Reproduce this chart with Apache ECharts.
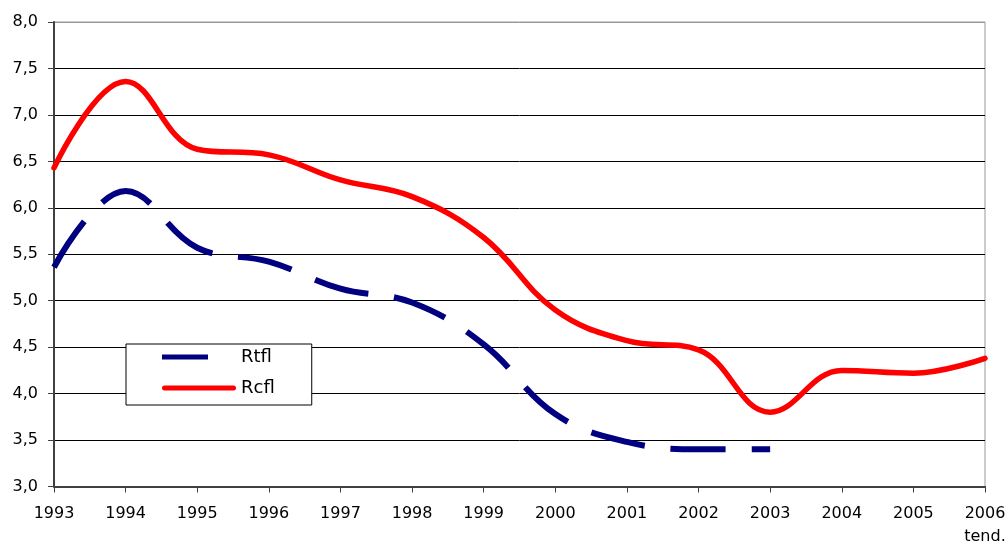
<!DOCTYPE html>
<html>
<head>
<meta charset="utf-8">
<script src="https://cdn.jsdelivr.net/npm/echarts@6/dist/echarts.min.js"></script>
<style>
  html, body { margin: 0; padding: 0; background: #fff; }
  #main { width: 1007px; height: 545px; }
</style>
</head>
<body>
<div id="main"></div>
<script>
var years = [1993, 1994, 1995, 1996, 1997, 1998, 1999, 2000, 2001, 2002, 2003, 2004, 2005, 2006];
var rtfl = [5.36, 6.18, 5.57, 5.42, 5.13, 4.98, 4.53, 3.78, 3.48, 3.40, 3.40];
var rcfl = [6.43, 7.36, 6.63, 6.57, 6.30, 6.12, 5.68, 4.90, 4.57, 4.47, 3.80, 4.25, 4.22, 4.38];
var yTicks = [3, 3.5, 4, 4.5, 5, 5.5, 6, 6.5, 7, 7.5, 8];

var chart = echarts.init(document.getElementById('main'));

function pairs(vals) {
  return vals.map(function (v, i) { return [years[i], v]; });
}

var gridColors = yTicks.map(function (t) { return t === 8 ? '#999' : '#000'; });

// legend icons: short dash for Rtfl, full rounded bar for Rcfl
var iconRtfl = 'path://M74,0 M0,0 L46,0 L46,5 L0,5 Z';
var iconRcfl = 'path://M2.5,0 L71.5,0 A2.5,2.5 0 0 1 71.5,5 L2.5,5 A2.5,2.5 0 0 1 2.5,0 Z';

var option = {
  backgroundColor: '#fff',
  animation: false,
  textStyle: { fontFamily: 'DejaVu Sans' },
  grid: {
    left: 54, right: 22, top: 22, bottom: 58.5,
    outerBoundsMode: 'none',
    containLabel: false,
    show: true, borderColor: '#999', borderWidth: 1
  },
  legend: {
    orient: 'vertical',
    left: 126, top: 344,
    backgroundColor: '#fff',
    borderColor: '#000', borderWidth: 1, borderRadius: 0,
    padding: [3, 37, 7, 36],
    itemGap: 11,
    itemWidth: 74, itemHeight: 5,
    textStyle: { fontSize: 18, color: '#000', lineHeight: 20, fontFamily: 'DejaVu Sans' },
    data: [
      { name: 'Rtfl', icon: iconRtfl, itemStyle: { color: '#000080' } },
      { name: 'Rcfl', icon: iconRcfl, itemStyle: { color: '#ff0000' } }
    ]
  },
  xAxis: {
    type: 'value',
    min: 1993, max: 2006, interval: 1,
    axisLine: { lineStyle: { color: '#404040', width: 2 } },
    axisTick: { show: true, length: 6, lineStyle: { color: '#404040', width: 1 } },
    splitLine: { show: false },
    axisLabel: {
      color: '#000', fontSize: 16, margin: 16, lineHeight: 23,
      fontFamily: 'DejaVu Sans',
      formatter: function (v) { return v === 2006 ? '2006\ntend.' : String(v); }
    }
  },
  yAxis: {
    type: 'value',
    min: 3, max: 8, interval: 0.5,
    axisLine: { show: true, lineStyle: { color: '#404040', width: 2 } },
    axisTick: { show: true, length: 6, lineStyle: { color: '#404040', width: 1 } },
    splitLine: { show: true, lineStyle: { color: gridColors, width: 1 } },
    axisLabel: {
      color: '#000', fontSize: 16, margin: 16,
      fontFamily: 'DejaVu Sans',
      formatter: function (v) { return v.toFixed(1).replace('.', ','); }
    }
  },
  series: [
    {
      name: 'Rtfl',
      type: 'line',
      smooth: 0.4,
      symbol: 'none',
      z: 3,
      lineStyle: { color: '#000080', width: 6, type: [55, 26], cap: 'butt' },
      itemStyle: { color: '#000080' },
      data: pairs(rtfl)
    },
    {
      name: 'Rcfl',
      type: 'line',
      smooth: 0.4,
      symbol: 'none',
      z: 4,
      lineStyle: { color: '#ff0000', width: 5.5, cap: 'round', join: 'round' },
      itemStyle: { color: '#ff0000' },
      data: pairs(rcfl)
    }
  ]
};

chart.setOption(option);
window.onresize = chart.resize;
</script>
</body>
</html>
